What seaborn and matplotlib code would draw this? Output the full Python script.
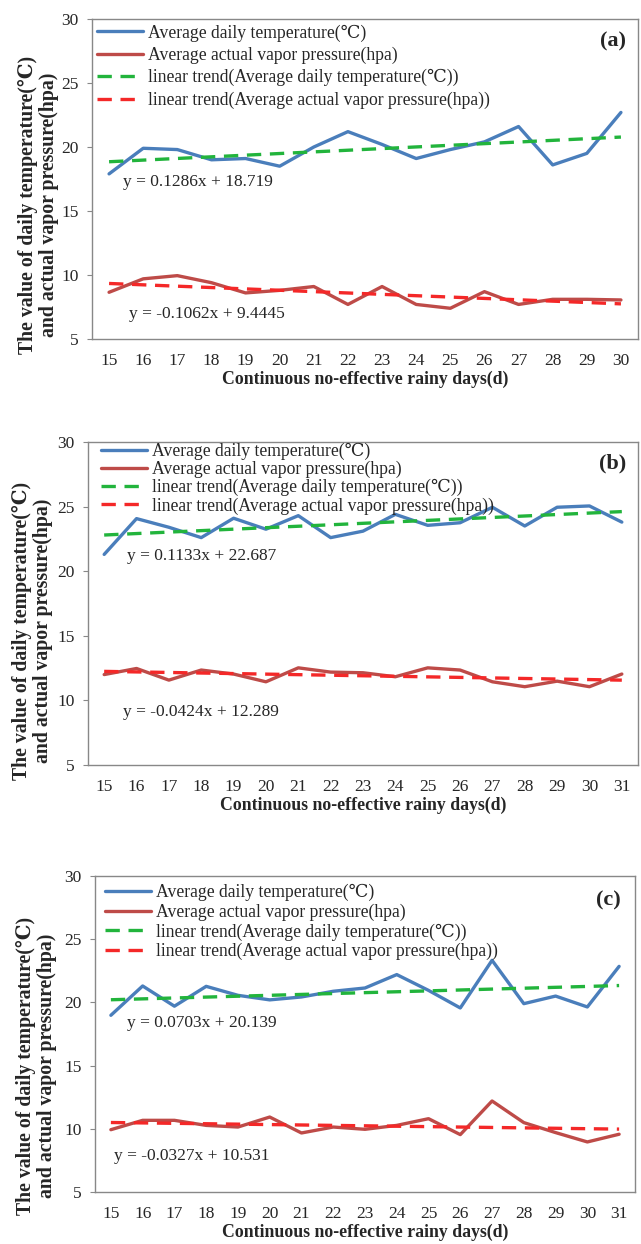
import numpy as np
import pandas as pd
import matplotlib.pyplot as plt
import seaborn as sns

# ==========================================================
# Data
# ==========================================================
days_a = list(range(15, 31))
days_bc = list(range(15, 32))

temp_a = [17.9, 19.9, 19.8, 19.0, 19.1, 18.5, 20.0, 21.2, 20.2, 19.1, 19.8, 20.4, 21.6, 18.6, 19.5, 22.7]
vap_a = [8.65, 9.7, 9.95, 9.4, 8.6, 8.8, 9.1, 7.7, 9.1, 7.7, 7.4, 8.7, 7.7, 8.1, 8.1, 8.05]

temp_b = [21.3, 24.07, 23.4, 22.6, 24.1, 23.25, 24.3, 22.6, 23.1, 24.4, 23.55, 23.75, 24.95, 23.5, 24.95, 25.05, 23.8]
vap_b = [12.0, 12.47, 11.57, 12.35, 12.04, 11.44, 12.52, 12.19, 12.14, 11.83, 12.52, 12.35, 11.44, 11.06, 11.49, 11.06, 12.04]

temp_c = [18.98, 21.3, 19.7, 21.27, 20.56, 20.2, 20.43, 20.88, 21.14, 22.2, 20.95, 19.56, 23.33, 19.9, 20.5, 19.64, 22.85]
vap_c = [9.93, 10.67, 10.67, 10.27, 10.14, 10.93, 9.67, 10.14, 9.96, 10.27, 10.8, 9.54, 12.2, 10.49, 9.7, 8.96, 9.57]

# trend equations printed on the chart (x = 1..n)
temp_slope = [0.1286, 0.1133, 0.0703]
temp_icpt = [18.719, 22.687, 20.139]
vap_slope = [-0.1062, -0.0424, -0.0327]
vap_icpt = [9.4445, 12.289, 10.531]
temp_eq = ["y = 0.1286x + 18.719", "y = 0.1133x + 22.687", "y = 0.0703x + 20.139"]
vap_eq = ["y = -0.1062x + 9.4445", "y = -0.0424x + 12.289", "y = -0.0327x + 10.531"]
panel_tags = ["(a)", "(b)", "(c)"]

sns.set_style("white")
plt.rcParams['font.family'] = ['Liberation Serif', 'DejaVu Serif', 'DejaVu Sans']

W, H = 641, 1244
fig = plt.figure(figsize=(W / 100, H / 100), dpi=100)

# axes boxes in pixels: left, right, top, bottom
boxes = [(92, 638, 19, 339), (88, 638, 442, 765), (95, 635, 876, 1192)]
eq_pos = [((0.057, 0.49), (0.068, 0.078)),
          ((0.07, 0.648), (0.064, 0.164)),
          ((0.059, 0.535), (0.035, 0.114))]
leg_spacing = [0.29, 0.05, 0.13]
leg_anchor = [(0.0, 1.0), (0.014, 1.014), (0.009, 0.991)]
tag_pos = [(0.978, 0.929), (0.978, 0.935), (0.974, 0.924)]
ylab_pos = [(-0.061, 0.42), (-0.064, 0.415), (-0.07, 0.40)]

blue = "#4A7EBB"
brown = "#BE4B48"
green = "#22B43C"
red = "#F42828"

panels = [(days_a, temp_a, vap_a), (days_bc, temp_b, vap_b), (days_bc, temp_c, vap_c)]

for k, (days, temp, vap) in enumerate(panels):
    l, r, t, b = boxes[k]
    ax = fig.add_axes([l / W, 1 - b / H, (r - l) / W, (b - t) / H])

    idx = np.arange(1, len(days) + 1)
    df = pd.DataFrame({"day": days, "temp": temp, "vap": vap,
                       "temp_trend": temp_slope[k] * idx + temp_icpt[k],
                       "vap_trend": vap_slope[k] * idx + vap_icpt[k]})

    sns.lineplot(data=df, x="day", y="temp", ax=ax, color=blue, lw=2.4,
                 label="Average daily temperature(℃)")
    sns.lineplot(data=df, x="day", y="vap", ax=ax, color=brown, lw=2.4,
                 label="Average actual vapor pressure(hpa)")
    sns.lineplot(data=df, x="day", y="temp_trend", ax=ax, color=green, lw=2.4,
                 label="linear trend(Average daily temperature(℃))")
    sns.lineplot(data=df, x="day", y="vap_trend", ax=ax, color=red, lw=2.4,
                 label="linear trend(Average actual vapor pressure(hpa))")
    ax.lines[2].set_dashes((4.3, 2.6))
    ax.lines[3].set_dashes((4.3, 2.6))

    ax.set_xlim(days[0] - 0.5, days[-1] + 0.5)
    ax.set_ylim(5, 30)
    ax.set_xticks(days)
    ax.set_xticklabels([str(d) for d in days], fontsize=12.5)
    ax.set_yticks([5, 10, 15, 20, 25, 30])
    ax.set_yticklabels(["5", "10", "15", "20", "25", "30"], fontsize=12.5)
    ax.tick_params(axis="x", length=0, pad=10)
    ax.tick_params(axis="y", length=3.6, color="#888888", left=True, pad=6)
    for s in ax.spines.values():
        s.set_color("#888888")
        s.set_linewidth(1.0)

    ax.set_xlabel("Continuous no-effective rainy days(d)", fontsize=12.8,
                  fontweight="bold", labelpad=1)
    ax.set_ylabel("The value of daily temperature(℃)\nand actual vapor pressure(hpa)",
                  fontsize=14.2, fontweight="bold", linespacing=1.05)
    ax.yaxis.set_label_coords(*ylab_pos[k])

    ax.legend(loc="upper left", bbox_to_anchor=leg_anchor[k], frameon=False,
              fontsize=12.7, handlelength=2.6, handletextpad=0.28,
              labelspacing=leg_spacing[k], borderaxespad=0.0, borderpad=0.3)

    ax.text(tag_pos[k][0], tag_pos[k][1], panel_tags[k], transform=ax.transAxes,
            ha="right", va="center", fontsize=16, fontweight="bold")
    (x1, y1), (x2, y2) = eq_pos[k]
    ax.text(x1, y1, temp_eq[k], transform=ax.transAxes, ha="left", va="center", fontsize=12.5)
    ax.text(x2, y2, vap_eq[k], transform=ax.transAxes, ha="left", va="center", fontsize=12.5)

fig.savefig("out.png", dpi=100)
